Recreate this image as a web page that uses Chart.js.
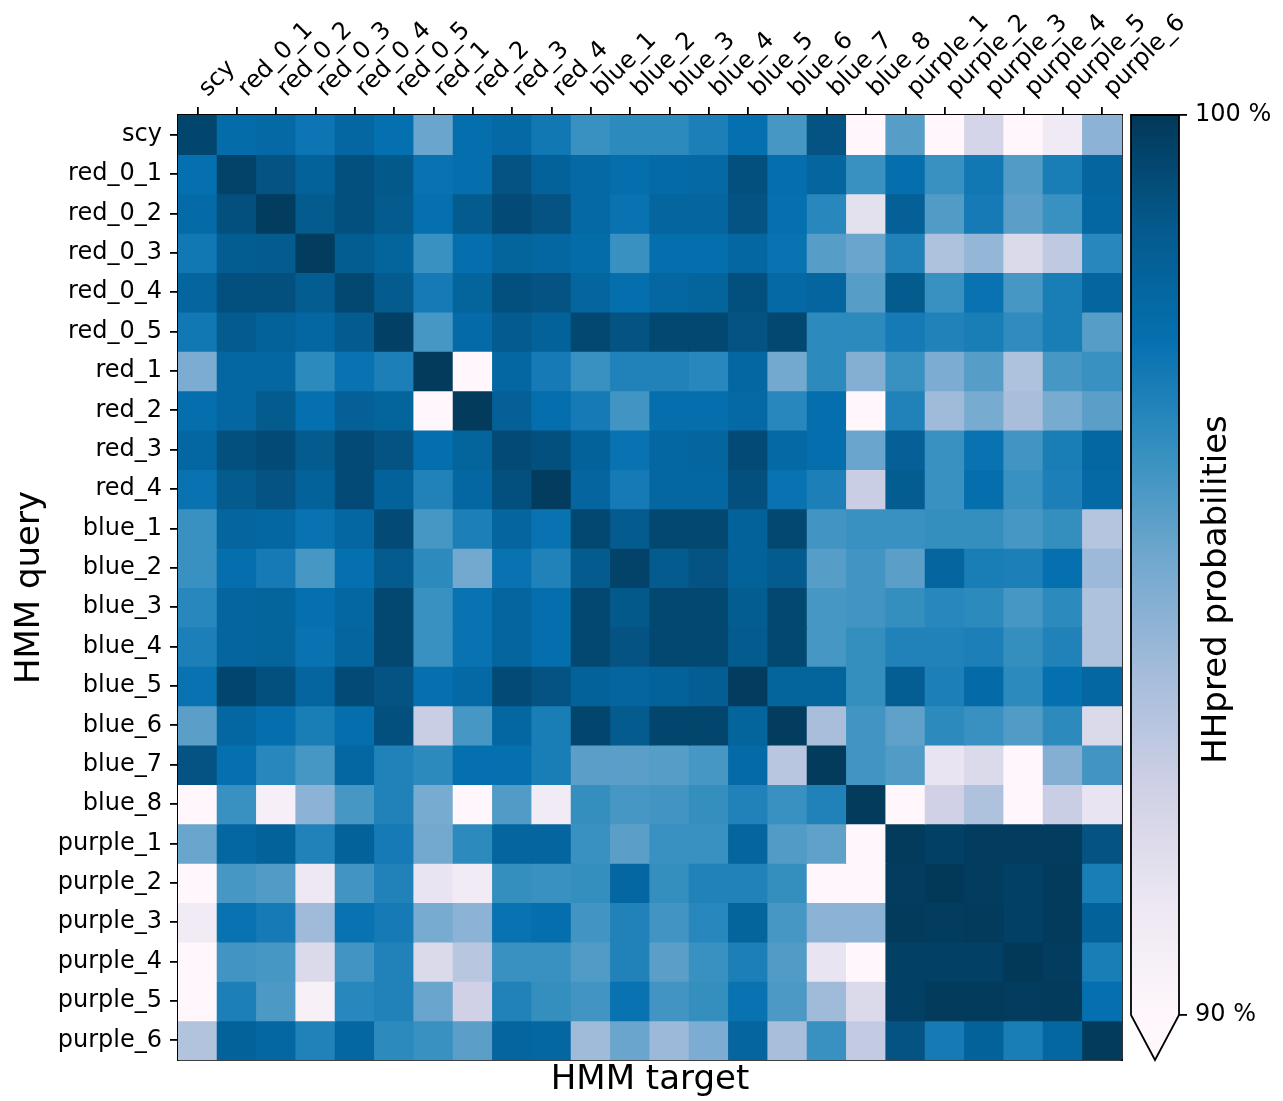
<!DOCTYPE html>
<html>

<head>
    <meta charset="utf-8">
    <title>HHpred probabilities</title>
    <script src="https://cdn.jsdelivr.net/npm/chart.js"></script>
    <style>
        body { margin: 0; background: #fff; }
        #wrap { position: relative; width: 1283px; height: 1101px; }
        #heat { position: absolute; left: 0; top: 0; }
        #cbar { position: absolute; left: 1122px; top: 0; }
    </style>
</head>

<body>
    <div id="wrap">
        <canvas id="heat" width="1283" height="1101"></canvas>
        <canvas id="cbar" width="161" height="1101"></canvas>
    </div>
    <script>
        // HMM names, used for both query rows and target columns
        const hmmNames = ['scy', 'red_0_1', 'red_0_2', 'red_0_3', 'red_0_4', 'red_0_5',
            'red_1', 'red_2', 'red_3', 'red_4',
            'blue_1', 'blue_2', 'blue_3', 'blue_4', 'blue_5', 'blue_6', 'blue_7', 'blue_8',
            'purple_1', 'purple_2', 'purple_3', 'purple_4', 'purple_5', 'purple_6'];

        // HHpred probability (%) of each query against every target
        const scy      = [99.5, 97.7, 97.9, 97.3, 98.0, 97.5, 95.2, 97.6, 97.9, 97.2, 96.2, 96.5, 96.5, 96.9, 97.5, 95.9, 99.0, 89.0, 95.6, 89.0, 92.3, 89.0, 91.0, 94.4];
        const red_0_1  = [97.5, 99.6, 99.0, 98.3, 99.1, 98.8, 97.4, 97.6, 99.0, 98.3, 97.9, 97.6, 97.8, 97.9, 99.1, 97.6, 98.1, 96.2, 97.6, 96.2, 97.2, 95.7, 97.0, 98.1];
        const red_0_2  = [97.8, 99.1, 99.8, 98.7, 99.1, 98.7, 97.5, 98.7, 99.3, 99.0, 97.9, 97.4, 98.1, 98.1, 99.0, 97.5, 96.6, 91.6, 98.4, 95.7, 97.1, 95.5, 96.2, 98.0];
        const red_0_3  = [97.2, 98.6, 98.7, 99.8, 98.6, 98.2, 96.2, 97.6, 98.2, 98.0, 97.7, 96.2, 97.6, 97.6, 98.0, 97.4, 95.6, 95.2, 96.8, 93.5, 94.2, 92.0, 93.0, 96.6];
        const red_0_4  = [98.1, 99.1, 99.1, 98.6, 99.4, 98.7, 97.1, 98.2, 99.1, 99.0, 98.1, 97.6, 98.0, 98.2, 99.1, 97.9, 98.1, 95.6, 98.7, 96.2, 97.4, 95.9, 97.0, 98.1];
        const red_0_5  = [97.2, 98.7, 98.3, 98.0, 98.7, 99.7, 95.9, 97.8, 98.7, 98.3, 99.4, 99.0, 99.4, 99.4, 99.0, 99.4, 96.5, 96.5, 97.1, 96.8, 97.0, 96.4, 97.0, 95.6];
        const red_1    = [94.8, 98.0, 98.0, 96.5, 97.4, 96.9, 99.9, 89.0, 98.0, 97.1, 96.2, 96.8, 96.8, 96.6, 98.0, 95.0, 96.5, 94.6, 96.2, 94.8, 95.6, 93.5, 95.9, 96.2];
        const red_2    = [97.6, 98.0, 98.7, 97.5, 98.4, 98.2, 89.0, 99.9, 98.4, 97.6, 97.1, 96.0, 97.6, 97.6, 97.9, 96.6, 97.6, 89.0, 96.8, 93.9, 94.9, 93.7, 94.9, 95.5];
        const red_3    = [98.0, 99.1, 99.3, 98.7, 99.3, 99.0, 97.6, 98.2, 99.3, 99.1, 98.3, 97.4, 98.0, 98.1, 99.3, 97.9, 97.6, 95.2, 98.4, 96.2, 97.4, 96.0, 97.0, 98.0];
        const red_4    = [97.4, 98.7, 99.0, 98.3, 99.3, 98.3, 96.8, 98.0, 99.1, 99.8, 98.1, 97.1, 98.0, 98.0, 99.1, 97.4, 96.9, 92.7, 98.6, 96.2, 97.6, 96.2, 96.9, 97.9];
        const blue_1   = [96.2, 98.1, 98.0, 97.4, 98.0, 99.3, 95.9, 96.9, 98.1, 97.4, 99.4, 98.7, 99.4, 99.4, 98.3, 99.4, 96.0, 96.2, 96.2, 96.3, 96.3, 95.9, 96.3, 93.3];
        const blue_2   = [96.2, 97.6, 97.1, 95.9, 97.5, 98.7, 96.5, 95.0, 97.4, 96.8, 98.7, 99.6, 98.7, 99.0, 98.3, 98.7, 95.6, 96.0, 95.5, 98.1, 97.0, 96.9, 97.5, 94.0];
        const blue_3   = [96.6, 98.1, 98.2, 97.5, 98.0, 99.4, 96.2, 97.4, 98.1, 97.6, 99.4, 98.8, 99.4, 99.4, 98.6, 99.4, 95.9, 96.0, 96.3, 96.6, 96.5, 95.9, 96.5, 93.5];
        const blue_4   = [96.9, 98.1, 98.2, 97.4, 98.1, 99.4, 96.2, 97.4, 98.1, 97.6, 99.4, 99.0, 99.4, 99.4, 98.7, 99.4, 95.9, 96.3, 96.8, 96.8, 96.9, 96.3, 96.8, 93.5];
        const blue_5   = [97.4, 99.5, 99.1, 98.1, 99.3, 99.0, 97.5, 97.9, 99.3, 99.0, 98.3, 98.1, 98.3, 98.5, 99.8, 98.2, 98.2, 96.3, 98.5, 96.9, 97.8, 96.5, 97.5, 98.0];
        const blue_6   = [95.5, 98.0, 97.6, 97.0, 97.6, 99.1, 92.7, 95.9, 98.0, 97.0, 99.5, 98.7, 99.5, 99.5, 98.2, 99.8, 93.7, 96.0, 95.4, 96.5, 96.2, 95.7, 96.5, 92.0];
        const blue_7   = [99.0, 97.5, 96.6, 95.9, 98.0, 96.8, 96.5, 97.5, 97.5, 97.0, 95.5, 95.5, 95.6, 95.9, 97.8, 93.2, 99.9, 96.0, 95.7, 91.4, 92.0, 89.0, 94.6, 96.0];
        const blue_8   = [89.0, 96.2, 90.6, 94.4, 95.9, 96.8, 94.9, 89.0, 95.7, 90.9, 96.3, 95.9, 96.0, 96.3, 96.8, 96.2, 96.8, 99.9, 89.0, 92.5, 93.5, 89.0, 92.7, 91.4];
        const purple_1 = [95.2, 98.0, 98.3, 96.8, 98.3, 97.1, 95.0, 96.5, 98.1, 98.1, 96.2, 95.5, 96.2, 96.2, 98.1, 95.7, 95.4, 89.0, 99.9, 99.7, 99.8, 99.8, 99.8, 99.0];
        const purple_2 = [89.0, 95.9, 95.7, 91.2, 96.0, 96.8, 91.4, 90.9, 96.3, 96.2, 96.3, 98.0, 96.3, 96.8, 96.8, 96.3, 89.0, 89.0, 99.8, 100.0, 99.8, 99.7, 99.9, 97.0];
        const purple_3 = [90.9, 97.4, 97.1, 93.9, 97.4, 97.1, 94.9, 94.4, 97.4, 97.6, 96.0, 96.8, 96.0, 96.6, 98.2, 95.9, 94.4, 94.4, 99.9, 99.8, 99.9, 99.7, 99.9, 98.3];
        const purple_4 = [89.0, 96.0, 95.9, 92.0, 96.0, 96.8, 92.0, 93.2, 96.2, 96.2, 95.7, 96.8, 95.5, 96.2, 96.9, 95.7, 91.4, 89.0, 99.7, 99.7, 99.7, 100.0, 99.8, 97.0];
        const purple_5 = [89.0, 96.9, 95.8, 90.5, 96.6, 96.8, 95.2, 92.5, 96.8, 96.3, 96.0, 97.4, 96.0, 96.3, 97.4, 95.8, 93.9, 92.0, 99.7, 99.9, 99.9, 99.8, 99.9, 97.5];
        const purple_6 = [93.4, 98.3, 98.0, 96.8, 98.0, 96.5, 96.2, 95.5, 98.1, 98.0, 93.9, 95.2, 94.0, 94.8, 98.1, 93.7, 96.2, 92.9, 99.0, 97.1, 98.3, 97.0, 98.0, 99.9];

        const queryRows = [scy, red_0_1, red_0_2, red_0_3, red_0_4, red_0_5, red_1, red_2, red_3, red_4,
            blue_1, blue_2, blue_3, blue_4, blue_5, blue_6, blue_7, blue_8,
            purple_1, purple_2, purple_3, purple_4, purple_5, purple_6];

        // colour scale limits and the ticks shown on the colour bar
        const scaleMin = 90;
        const scaleMax = 100;
        const colorbarTicks = [90, 100];

        // PuBu colour ramp
        const PUBU = ['#fff7fb', '#ece7f2', '#d0d1e6', '#a6bddb', '#74a9cf', '#3690c0', '#0570b0', '#045a8d', '#023858'];
        const pubuRgb = PUBU.map(h => [1, 3, 5].map(i => parseInt(h.slice(i, i + 2), 16)));

        function rampColor(t) {
            t = Math.min(1, Math.max(0, t));
            const pos = t * (pubuRgb.length - 1);
            const i = Math.min(pubuRgb.length - 2, Math.floor(pos));
            const f = pos - i;
            const c = pubuRgb[i].map((v, k) => Math.round(v + (pubuRgb[i + 1][k] - v) * f));
            return `rgb(${c[0]}, ${c[1]}, ${c[2]})`;
        }

        function cellColor(v) {
            return rampColor((v - scaleMin) / (scaleMax - scaleMin));
        }

        Chart.defaults.font.family = "'DejaVu Sans', sans-serif";
        Chart.defaults.color = '#000';

        const tickFont = { size: 24 };
        const titleFont = { size: 34 };
        const spine = { display: true, color: '#000', width: 1.8 };
        const tickMarks = { drawOnChartArea: false, tickLength: 8, color: '#000', lineWidth: 1.8 };

        // one floating-bar dataset per query row; each bar spans one row band
        const datasets = queryRows.map((row, r) => ({
            label: hmmNames[r],
            data: row.map(() => [r, r + 1]),
            backgroundColor: row.map(cellColor),
            borderWidth: 0,
            inflateAmount: 0.6,
            grouped: false,
            barPercentage: 1,
            categoryPercentage: 1,
            xAxisID: 'x',
            yAxisID: 'y'
        }));

        const heatChart = new Chart(document.getElementById('heat'), {
            type: 'bar',
            data: { labels: hmmNames, datasets: datasets },
            options: {
                responsive: false,
                animation: false,
                events: [],
                layout: { padding: 0 },
                plugins: {
                    legend: { display: false },
                    tooltip: { enabled: false }
                },
                scales: {
                    x: {
                        axis: 'x',
                        type: 'category',
                        position: 'top',
                        offset: true,
                        grid: Object.assign({ offset: false }, tickMarks),
                        border: spine,
                        ticks: {
                            autoSkip: false,
                            maxRotation: 45,
                            minRotation: 45,
                            padding: 4,
                            labelOffset: 26,
                            font: tickFont
                        },
                        afterFit(s) { s.height = 115; s.paddingLeft = 0; s.paddingRight = 0; }
                    },
                    xb: {
                        axis: 'x',
                        type: 'category',
                        position: 'bottom',
                        offset: true,
                        grid: { drawOnChartArea: false, drawTicks: false },
                        border: spine,
                        ticks: { display: false },
                        title: { display: true, text: 'HMM target', font: titleFont, padding: { top: -4, bottom: 0 } },
                        afterFit(s) { s.height = 41; s.paddingLeft = 0; s.paddingRight = 0; }
                    },
                    y: {
                        axis: 'y',
                        type: 'linear',
                        position: 'left',
                        min: 0,
                        max: hmmNames.length,
                        reverse: true,
                        afterBuildTicks(s) {
                            s.ticks = hmmNames.map((_, i) => ({ value: i + 0.5 }));
                        },
                        grid: tickMarks,
                        border: spine,
                        ticks: {
                            autoSkip: false,
                            padding: 8,
                            font: tickFont,
                            callback: (value, index) => hmmNames[index]
                        },
                        title: { display: true, text: 'HMM query', font: titleFont, padding: { top: 10, bottom: 0 } },
                        afterFit(s) { s.width = 178; s.paddingTop = 0; s.paddingBottom = 0; }
                    },
                    yr: {
                        axis: 'y',
                        type: 'linear',
                        position: 'right',
                        min: 0,
                        max: hmmNames.length,
                        reverse: true,
                        grid: { drawOnChartArea: false, drawTicks: false },
                        border: spine,
                        ticks: { display: false },
                        afterFit(s) { s.width = 161; s.paddingTop = 0; s.paddingBottom = 0; }
                    }
                }
            }
        });

        // colour bar: gradient body, lower extension triangle and its label
        const colorbarPlugin = {
            id: 'colorbar',
            beforeDatasetsDraw(chart) {
                const { ctx, chartArea: a } = chart;
                const s = chart.scales.y;
                const yTop = s.getPixelForValue(scaleMax);
                const yLow = s.getPixelForValue(scaleMin);
                const yTip = s.getPixelForValue(s.min);
                const mid = (a.left + a.right) / 2;

                const g = ctx.createLinearGradient(0, yLow, 0, yTop);
                PUBU.forEach((c, i) => g.addColorStop(i / (PUBU.length - 1), c));

                ctx.save();
                ctx.fillStyle = g;
                ctx.fillRect(a.left, yTop, a.right - a.left, yLow - yTop);

                ctx.fillStyle = PUBU[0];
                ctx.beginPath();
                ctx.moveTo(a.left, yLow);
                ctx.lineTo(a.right, yLow);
                ctx.lineTo(mid, yTip);
                ctx.closePath();
                ctx.fill();

                ctx.beginPath();
                ctx.moveTo(a.left, yTop);
                ctx.lineTo(a.right, yTop);
                ctx.lineTo(a.right, yLow);
                ctx.lineTo(mid, yTip);
                ctx.lineTo(a.left, yLow);
                ctx.closePath();
                ctx.lineWidth = 1.8;
                ctx.strokeStyle = '#000';
                ctx.stroke();
                ctx.restore();
            },
            afterDraw(chart) {
                const { ctx, chartArea: a } = chart;
                ctx.save();
                ctx.translate(a.right + 38, (a.top + a.bottom) / 2 + 2);
                ctx.rotate(-Math.PI / 2);
                ctx.font = "34px 'DejaVu Sans', sans-serif";
                ctx.fillStyle = '#000';
                ctx.textAlign = 'center';
                ctx.textBaseline = 'middle';
                ctx.fillText('HHpred probabilities', 0, 0);
                ctx.restore();
            }
        };

        const barChart = new Chart(document.getElementById('cbar'), {
            type: 'bar',
            data: { labels: [''], datasets: [] },
            options: {
                responsive: false,
                animation: false,
                events: [],
                layout: { padding: { left: 9, top: 115, bottom: 41, right: 0 } },
                plugins: {
                    legend: { display: false },
                    tooltip: { enabled: false }
                },
                scales: {
                    x: { display: false },
                    y: {
                        type: 'linear',
                        position: 'right',
                        min: scaleMin - 0.05 * (scaleMax - scaleMin),
                        max: scaleMax,
                        afterBuildTicks(s) {
                            s.ticks = colorbarTicks.map(v => ({ value: v }));
                        },
                        grid: tickMarks,
                        border: { display: false },
                        ticks: {
                            padding: 8,
                            font: tickFont,
                            callback: v => v + ' %'
                        },
                        afterFit(s) { s.width = 104; s.paddingTop = 0; s.paddingBottom = 0; }
                    }
                }
            },
            plugins: [colorbarPlugin]
        });
    </script>
</body>

</html>
